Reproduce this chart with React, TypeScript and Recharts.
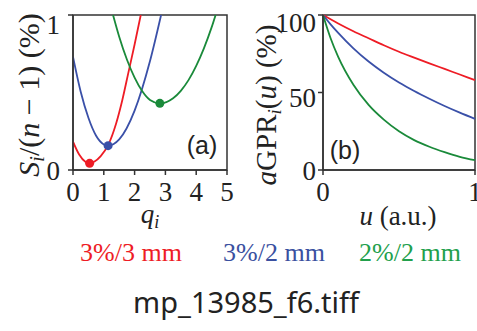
import React from 'react';
import { LineChart, Line, XAxis, YAxis, ReferenceDot, ReferenceArea } from 'recharts';

const seriesNames = ['3%/3 mm', '3%/2 mm', '2%/2 mm'];
const lineColors = ['#ee1c25', '#3a50a8', '#1a8a3a'];
const legendColors = ['#ee1c25', '#3a50a0', '#22a04c'];

// Panel (a): S_i/(n-1) vs q_i
const redQ = [0, 0.2, 0.4, 0.54, 0.7, 0.9, 1.14, 1.4, 1.6, 1.8, 2.0, 2.2];
const redS = [0.183, 0.1, 0.053, 0.043, 0.055, 0.09, 0.16, 0.3, 0.45, 0.63, 0.81, 1.0];
const blueQ = [0, 0.25, 0.5, 0.75, 1.0, 1.14, 1.5, 2.0, 2.5, 2.86];
const blueS = [0.73, 0.505, 0.337, 0.221, 0.165, 0.157, 0.197, 0.383, 0.703, 1.0];
const greenQ = [1.3, 1.5, 1.75, 2.0, 2.25, 2.5, 2.82, 3.25, 3.5, 3.75, 4.0, 4.25, 4.5, 4.63];
const greenS = [1.0, 0.86, 0.713, 0.596, 0.508, 0.452, 0.43, 0.463, 0.511, 0.58, 0.672, 0.785, 0.92, 1.0];
const minQ = [0.54, 1.14, 2.82];
const minS = [0.043, 0.157, 0.43];
const qTicks = [0, 1, 2, 3, 4, 5];
const sTicks = [0, 1];

// Panel (b): aGPR_i(u) vs u
const uValues = [0, 0.05, 0.1, 0.2, 0.3, 0.4, 0.5, 0.6, 0.7, 0.8, 0.9, 1.0];
const redGPR = [100, 97.2, 94.5, 89.5, 85, 80.5, 76.3, 72.5, 68.8, 65.2, 61.6, 58];
const blueGPR = [100, 94, 88.5, 78.5, 70, 62.8, 56.5, 51, 46, 41.3, 37, 33];
const greenGPR = [100, 85, 73, 55, 42, 32.5, 25, 19.3, 15, 11.5, 8.5, 6.3];
const uTicks = [0, 1];
const gprTicks = [0, 50, 100];

const toPairs = (xs: number[], ys: number[]) => xs.map((q, i) => ({ q, s: ys[i] }));
const curvesA = [toPairs(redQ, redS), toPairs(blueQ, blueS), toPairs(greenQ, greenS)];
const dataB = uValues.map((u, i) => ({ u, r: redGPR[i], b: blueGPR[i], g: greenGPR[i] }));
const keysB = ['r', 'b', 'g'];

const AXIS = '#333';
const serif = '"Liberation Serif", "Times New Roman", serif';
const TICK_FS = 27;

const makeYTick = (shifts: number[]) => (props: any) => {
  const { x, y, payload, index } = props;
  return (
    <text x={x} y={y + (shifts[index] || 0)} dy="0.355em" textAnchor="end" fontFamily={serif} fontSize={TICK_FS} fill="#222">
      {payload.value}
    </text>
  );
};

const abs = (left: number, top: number, extra: React.CSSProperties = {}): React.CSSProperties => ({
  position: 'absolute', left, top, transform: 'translate(-50%,-50%)', whiteSpace: 'nowrap', lineHeight: 1, ...extra,
});

export default function App() {
  return (
    <div style={{ position: 'absolute', left: 0, top: 0, width: 477, height: 331, background: '#fff', overflow: 'hidden' }}>
      <div style={{ position: 'absolute', left: 0, top: 0 }}>
        <LineChart width={240} height={215} margin={{ top: 15, left: 13, right: 13, bottom: 15 }}>
          <XAxis type="number" dataKey="q" domain={[0, 5]} ticks={qTicks} height={30} allowDataOverflow
            axisLine={{ stroke: AXIS, strokeWidth: 1.5 }} tickLine={{ stroke: AXIS, strokeWidth: 1.5 }} tickSize={5} tickMargin={7}
            tick={{ fontFamily: serif, fontSize: TICK_FS, fill: '#222' }} interval={0} />
          <YAxis type="number" domain={[0, 1]} ticks={sTicks} width={60} allowDataOverflow
            axisLine={{ stroke: AXIS, strokeWidth: 1.5 }} tickLine={{ stroke: AXIS, strokeWidth: 1.5 }} tickSize={5} tickMargin={8}
            tick={makeYTick([0, 9])} interval={0} />
          <ReferenceArea x1={0} x2={5} y1={0} y2={1} fill="none" stroke={AXIS} strokeWidth={1.5} />
          {curvesA.map((d, i) => (
            <Line key={i} data={d} dataKey="s" type="monotone" stroke={lineColors[i]} strokeWidth={1.8} dot={false} isAnimationActive={false} />
          ))}
          {minQ.map((q, i) => (
            <ReferenceDot key={'d' + i} x={q} y={minS[i]} r={4.5} fill={lineColors[i]} stroke="none" />
          ))}
        </LineChart>
      </div>
      <div style={{ position: 'absolute', left: 240, top: 0 }}>
        <LineChart width={237} height={215} data={dataB} margin={{ top: 15, left: 13, right: 2, bottom: 15 }}>
          <XAxis type="number" dataKey="u" domain={[0, 1]} ticks={uTicks} height={30}
            axisLine={{ stroke: AXIS, strokeWidth: 1.5 }} tickLine={{ stroke: AXIS, strokeWidth: 1.5 }} tickSize={5} tickMargin={7}
            tick={{ fontFamily: serif, fontSize: TICK_FS, fill: '#222' }} interval={0} />
          <YAxis type="number" domain={[0, 100]} ticks={gprTicks} width={70}
            axisLine={{ stroke: AXIS, strokeWidth: 1.5 }} tickLine={{ stroke: AXIS, strokeWidth: 1.5 }} tickSize={5} tickMargin={2}
            tick={makeYTick([0, 4.5, 7.5])} interval={0} />
          <ReferenceArea x1={0} x2={1} y1={0} y2={100} fill="none" stroke={AXIS} strokeWidth={1.5} />
          {keysB.map((k, i) => (
            <Line key={k} dataKey={k} type="monotone" stroke={lineColors[i]} strokeWidth={1.8} dot={false} isAnimationActive={false} />
          ))}
        </LineChart>
      </div>

      <div style={abs(30, 95, { transform: 'translate(-50%,-50%) rotate(-90deg)', fontFamily: serif, fontSize: 30, color: '#222' })}>
        <i>S</i><sub style={{ fontSize: 20, verticalAlign: '-0.25em' }}><i>i</i></sub>/(<i>n</i> − 1) (%)
      </div>
      <div style={abs(268, 105, { transform: 'translate(-50%,-50%) rotate(-90deg)', fontFamily: serif, fontSize: 29, color: '#222' })}>
        <i>a</i>GPR<sub style={{ fontSize: 19, verticalAlign: '-0.25em' }}><i>i</i></sub>(<i>u</i>) (%)
      </div>
      <div style={abs(150, 216, { fontFamily: serif, fontSize: 27, color: '#222' })}>
        <i>q</i><sub style={{ fontSize: 18, verticalAlign: '-0.25em' }}><i>i</i></sub>
      </div>
      <div style={abs(398, 216, { fontFamily: serif, fontSize: 27, color: '#222' })}>
        <i>u</i> (a.u.)
      </div>
      <div style={abs(202, 145, { fontFamily: '"Liberation Sans", Arial, sans-serif', fontSize: 25, color: '#222' })}>(a)</div>
      <div style={abs(345, 150, { fontFamily: '"Liberation Sans", Arial, sans-serif', fontSize: 25, color: '#222' })}>(b)</div>

      {seriesNames.map((n, i) => (
        <div key={n} style={abs([131, 274, 410][i], 253, { fontFamily: serif, fontSize: 26, color: legendColors[i] })}>{n}</div>
      ))}
      <div style={abs(246, 301, { fontFamily: '"Noto Sans", sans-serif', fontSize: 29, color: '#222' })}>mp_13985_f6.tiff</div>
    </div>
  );
}
